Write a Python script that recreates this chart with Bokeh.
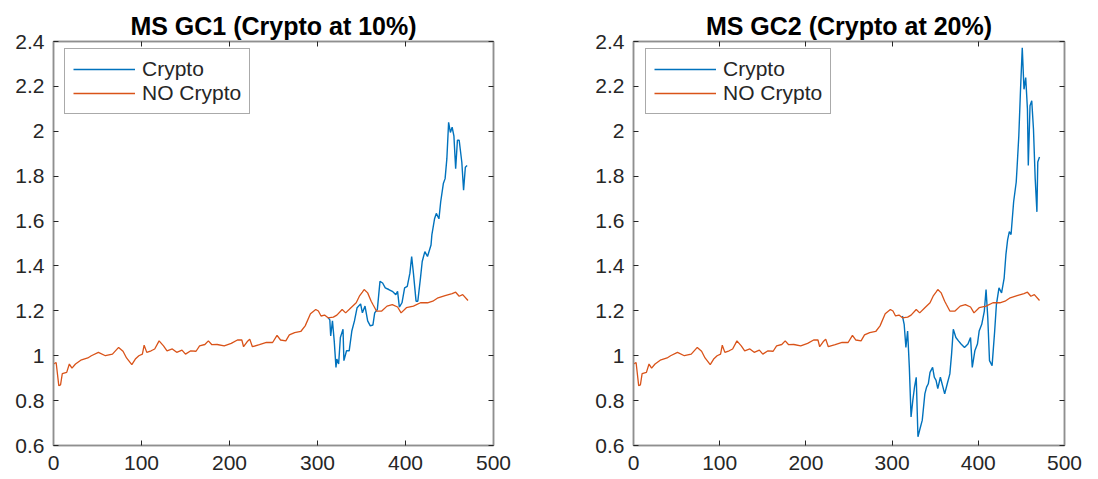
from bokeh.plotting import figure
from bokeh.models import Range1d, LinearAxis, FixedTicker, Legend, LegendItem
from bokeh.layouts import row
from bokeh.embed import file_html
from bokeh.resources import INLINE

# ---- data ----
nocrypto_x = [0, 3, 6, 8, 10, 15, 18, 21, 25, 31, 39, 43, 51, 59, 67, 74, 79, 83, 89, 93,
              97, 101, 103, 106, 111, 115, 120, 125, 129, 135, 140, 146, 150, 156, 162, 166,
              172, 176, 180, 186, 194, 202, 209, 214, 216, 220, 223, 226, 234, 242, 249, 254,
              258, 264, 268, 274, 281, 286, 292, 298, 301, 304, 308, 312, 318, 322, 328, 332,
              338, 344, 348, 351, 353, 357, 361, 363, 367, 373, 379, 385, 391, 395, 401, 409,
              417, 425, 431, 437, 445, 453, 457, 461, 465, 471]
nocrypto_y = [0.963, 0.97, 0.867, 0.87, 0.92, 0.926, 0.963, 0.945, 0.963, 0.98, 0.99, 1.0,
              1.015, 1.0, 1.007, 1.037, 1.02, 0.99, 0.96, 0.985, 1.0, 1.007, 1.047, 1.015,
              1.022, 1.03, 1.066, 1.044, 1.022, 1.03, 1.015, 1.025, 1.007, 1.022, 1.02, 1.044,
              1.05, 1.066, 1.049, 1.05, 1.044, 1.055, 1.07, 1.07, 1.04, 1.062, 1.074, 1.04,
              1.049, 1.059, 1.059, 1.091, 1.07, 1.066, 1.093, 1.103, 1.108, 1.133, 1.187,
              1.206, 1.199, 1.177, 1.181, 1.169, 1.172, 1.181, 1.206, 1.191, 1.214, 1.236,
              1.268, 1.283, 1.295, 1.28, 1.243, 1.228, 1.199, 1.199, 1.221, 1.228, 1.217,
              1.191, 1.214, 1.221, 1.236, 1.236, 1.243, 1.258, 1.268, 1.277, 1.283, 1.265,
              1.272, 1.246]

crypto10_x = [312, 314, 315, 317, 319, 321, 322, 324, 326, 329, 330, 333, 336, 339, 342, 345,
              349, 351, 354, 357, 360, 363, 365, 368, 371, 374, 377, 381, 385, 389, 391, 393,
              396, 399, 402, 405, 407, 409, 412, 414, 417, 419, 422, 425, 429, 430, 433, 435,
              438, 440, 443, 445, 447, 449, 451, 453, 455, 457, 459, 461, 464, 466, 468, 470]
crypto10_y = [1.17, 1.16, 1.088, 1.155, 1.066, 0.948, 0.985, 0.963, 1.081, 1.118, 0.978,
              1.022, 1.022, 1.11, 1.155, 1.214, 1.231, 1.191, 1.221, 1.155, 1.133, 1.137,
              1.191, 1.206, 1.331, 1.324, 1.302, 1.295, 1.287, 1.272, 1.287, 1.217, 1.236,
              1.302, 1.309, 1.368, 1.442, 1.368, 1.243, 1.243, 1.346, 1.42, 1.464, 1.442,
              1.493, 1.54, 1.61, 1.634, 1.61, 1.686, 1.767, 1.789, 1.878, 2.04, 1.995, 2.018,
              1.98, 1.833, 1.96, 1.96, 1.862, 1.737, 1.84, 1.848]

crypto20_x = [312, 314, 316, 318, 320, 322, 324, 326, 328, 330, 332, 335, 338, 340, 342, 344,
              347, 349, 351, 353, 356, 359, 361, 364, 367, 369, 371, 374, 377, 380, 384, 388,
              391, 393, 396, 399, 401, 404, 407, 409, 411, 413, 416, 419, 421, 424, 427, 430,
              432, 434, 436, 438, 441, 444, 445, 447, 449, 451, 453, 455, 457, 458, 460, 462,
              464, 466, 468, 469, 471]
crypto20_y = [1.177, 1.14, 1.037, 1.11, 0.948, 0.727, 0.8, 0.86, 0.904, 0.639, 0.669, 0.713,
              0.83, 0.86, 0.875, 0.926, 0.948, 0.904, 0.89, 0.853, 0.904, 0.86, 0.83, 0.875,
              0.919, 1.007, 1.118, 1.081, 1.066, 1.052, 1.037, 1.052, 1.081, 0.948, 1.022,
              1.052, 1.11, 1.14, 1.199, 1.295, 1.169, 0.978, 0.956, 1.11, 1.228, 1.302, 1.28,
              1.346, 1.449, 1.516, 1.553, 1.54, 1.686, 1.774, 1.84, 1.98, 2.187, 2.372, 2.187,
              2.239, 2.099, 1.848, 2.114, 2.136, 2.01, 1.789, 1.641, 1.863, 1.885]

titles = ["MS GC1 (Crypto at 10%)", "MS GC2 (Crypto at 20%)"]
series_names = ["Crypto", "NO Crypto"]
x_ticks = [0, 100, 200, 300, 400, 500]
y_ticks = [0.6, 0.8, 1.0, 1.2, 1.4, 1.6, 1.8, 2.0, 2.2, 2.4]

BLUE = "#0072BD"
ORANGE = "#D95319"
AXIS_GRAY = "#8f8f8f"
TEXT = "#262626"
FONT = "Liberation Sans"
FRAME_H = 404


def mirror_axis(ticks):
    # unlabeled axis that only carries inward ticks on the top / right box edge
    return LinearAxis(ticker=FixedTicker(ticks=ticks), major_label_text_font_size="1px",
                      major_label_text_color=None, major_label_standoff=0,
                      major_tick_in=5, major_tick_out=0,
                      minor_tick_line_color=None, axis_line_color=AXIS_GRAY,
                      axis_line_width=1.5, major_tick_line_color=TEXT)


def make_panel(title, cx, cy, frame_w, left, right, leg_dx):
    p = figure(width=left + frame_w + right, height=479,
               frame_width=frame_w, frame_height=FRAME_H,
               x_range=Range1d(0, 500), y_range=Range1d(0.6, 2.4),
               output_backend="svg", toolbar_location=None,
               min_border_left=left, min_border_right=right,
               min_border_top=41, min_border_bottom=34)
    p.title.text = title
    p.title.text_font = FONT
    p.title.text_font_size = "25px"
    p.title.text_font_style = "bold"
    p.title.text_color = "#000000"
    p.title.align = "center"
    p.title.standoff = 3
    p.grid.visible = False
    p.outline_line_color = AXIS_GRAY
    p.outline_line_width = 1.5

    for ax in (p.xaxis[0], p.yaxis[0]):
        ax.major_label_text_font = FONT
        ax.major_label_text_font_size = "21px"
        ax.major_label_text_color = TEXT
        ax.axis_line_color = AXIS_GRAY
        ax.axis_line_width = 1.5
        ax.major_tick_line_color = TEXT
        ax.major_tick_in = 5
        ax.major_tick_out = 0
        ax.minor_tick_line_color = None
    p.xaxis[0].ticker = FixedTicker(ticks=x_ticks)
    p.yaxis[0].ticker = FixedTicker(ticks=y_ticks)
    p.xaxis[0].major_label_standoff = 10
    p.yaxis[0].major_label_standoff = 9

    p.add_layout(mirror_axis(x_ticks), "above")
    p.add_layout(mirror_axis(y_ticks), "right")

    r1 = p.line(cx, cy, line_color=BLUE, line_width=1.4)
    r2 = p.line(nocrypto_x, nocrypto_y, line_color=ORANGE, line_width=1.3)

    pad, row_h, sp = 8, 22, 0
    leg_h = 2 * row_h + sp + 2 * pad
    legend = Legend(items=[LegendItem(label=series_names[0], renderers=[r1]),
                           LegendItem(label=series_names[1], renderers=[r2])],
                    location=(leg_dx, FRAME_H - 13 - leg_h))
    legend.margin = 0
    legend.padding = pad
    legend.spacing = sp
    legend.glyph_width = 62
    legend.glyph_height = row_h
    legend.label_height = row_h
    legend.label_standoff = 7
    legend.label_text_font = FONT
    legend.label_text_font_size = "21px"
    legend.label_text_color = TEXT
    legend.border_line_color = "#555555"
    legend.border_line_width = 1.5
    legend.background_fill_color = "white"
    p.add_layout(legend, "center")
    return p


p1 = make_panel(titles[0], crypto10_x, crypto10_y, 440, 53, 56, 11)
p2 = make_panel(titles[1], crypto20_x, crypto20_y, 431, 84, 34, 12)

layout = row(p1, p2)
open("out.html", "w").write(file_html(layout, INLINE))
